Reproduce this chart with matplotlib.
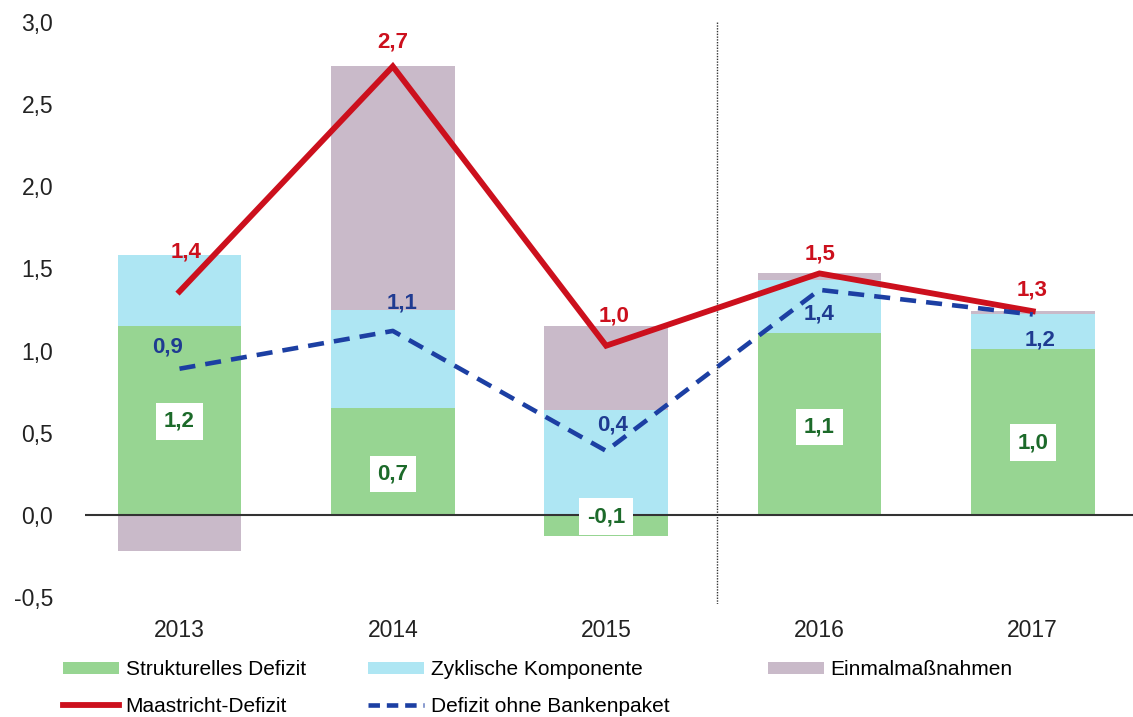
import numpy as np
import matplotlib
matplotlib.use("Agg")
import matplotlib.pyplot as plt
from matplotlib.patches import Patch
from matplotlib.lines import Line2D

plt.rcParams['font.family'] = ['Liberation Sans', 'DejaVu Sans']

# -------------------------------------------------
# data
# -------------------------------------------------
years = ['2013', '2014', '2015', '2016', '2017']
strukturell = [1.15, 0.65, -0.13, 1.11, 1.01]
zyklisch = [0.43, 0.60, 0.64, 0.32, 0.21]
einmal = [-0.22, 1.48, 0.51, 0.04, 0.02]
maastricht = [1.36, 2.73, 1.03, 1.47, 1.24]
ohne_bank = [0.89, 1.12, 0.39, 1.37, 1.22]

lbl_struk = ['1,2', '0,7', '-0,1', '1,1', '1,0']
lbl_maas = ['1,4', '2,7', '1,0', '1,5', '1,3']
lbl_ohne = ['0,9', '1,1', '0,4', '1,4', '1,2']

# label placement (pixels offset from the point / y for boxes)
off_maas = [(7, 39), (0, 24), (8, 30), (1, 19), (-1, 21)]
off_ohne = [(-12, 22), (9, 28), (6, 26), (0, -24), (7, -26)]
y_struk_lbl = [0.57, 0.25, -0.01, 0.535, 0.44]

c_green = '#97d592'
c_cyan = '#aee6f3'
c_grey = '#c9bac9'
c_red = '#cc101d'
c_blue = '#1c3fa3'

# -------------------------------------------------
# plot
# -------------------------------------------------
fig = plt.figure(figsize=(11.33, 7.17), dpi=100)
ax = fig.add_axes([85 / 1133, 1 - 603.7 / 717, 1 - 85 / 1133, (603.7 - 22) / 717])

x = np.arange(len(years))
w = 0.58
pos_bot = np.zeros(len(years))
neg_bot = np.zeros(len(years))
for vals, col in [(strukturell, c_green), (zyklisch, c_cyan), (einmal, c_grey)]:
    vals = np.array(vals)
    bot = np.where(vals >= 0, pos_bot, neg_bot)
    ax.bar(x, vals, w, bottom=bot, color=col, edgecolor='none', zorder=2)
    pos_bot += np.where(vals >= 0, vals, 0)
    neg_bot += np.where(vals < 0, vals, 0)

ax.axhline(0, color='#333333', lw=1.5, zorder=3)
ax.axvline(2.52, color='#333333', lw=1.0, ls=(0, (1, 1)), zorder=3)

ax.plot(x, maastricht, color=c_red, lw=4.2, solid_joinstyle='miter', zorder=4)
ax.plot(x, ohne_bank, color=c_blue, lw=3.3, dashes=(3.5, 2.2), zorder=5)

for i in range(len(years)):
    ax.annotate(lbl_maas[i], (x[i], maastricht[i]), xytext=(off_maas[i][0] * 0.72, off_maas[i][1] * 0.72),
                textcoords='offset points', ha='center', va='center',
                color=c_red, fontsize=16, fontweight='bold', zorder=6)
    ax.annotate(lbl_ohne[i], (x[i], ohne_bank[i]), xytext=(off_ohne[i][0] * 0.72, off_ohne[i][1] * 0.72),
                textcoords='offset points', ha='center', va='center',
                color='#1f3b91', fontsize=16, fontweight='bold', zorder=6)
    ax.text(x[i], y_struk_lbl[i], lbl_struk[i], ha='center', va='center',
            color='#1c6a2a', fontsize=16, fontweight='bold', zorder=6,
            bbox=dict(facecolor='white', edgecolor='none', boxstyle='square,pad=0.35'))

ax.set_xlim(-0.443, 4.47)
ax.set_ylim(-0.54, 3.0)
ax.set_xticks(x)
ax.set_xticklabels(years)
yt = np.arange(-0.5, 3.01, 0.5)
ax.set_yticks(yt)
ax.set_yticklabels([f"{v:.1f}".replace('.', ',') for v in yt])
ax.tick_params(axis='both', length=0, labelsize=16.5, colors='#222222')
ax.tick_params(axis='y', pad=23)
ax.tick_params(axis='x', pad=11)
for s in ax.spines.values():
    s.set_visible(False)

# legend, three columns placed separately like the original
leg_kw = dict(frameon=False, fontsize=15, handlelength=2.7, handleheight=0.5,
              handletextpad=0.3, labelspacing=0.84, borderpad=0, borderaxespad=0,
              loc='upper left')
h_green = Patch(facecolor=c_green, edgecolor='none')
h_cyan = Patch(facecolor=c_cyan, edgecolor='none')
h_grey = Patch(facecolor=c_grey, edgecolor='none')
h_red = Line2D([], [], color=c_red, lw=4.2)
h_blue = Line2D([], [], color=c_blue, lw=3.3, dashes=(2.5, 1.5))

top = 1 - 660 / 717
fig.legend([h_green, h_red], ['Strukturelles Defizit', 'Maastricht-Defizit'],
           bbox_to_anchor=(63 / 1133, top), **leg_kw)
fig.legend([h_cyan, h_blue], ['Zyklische Komponente', 'Defizit ohne Bankenpaket'],
           bbox_to_anchor=(368 / 1133, top), **leg_kw)
fig.legend([h_grey], ['Einmalmaßnahmen'],
           bbox_to_anchor=(768 / 1133, top), **leg_kw)

fig.savefig('out.png', dpi=100)
